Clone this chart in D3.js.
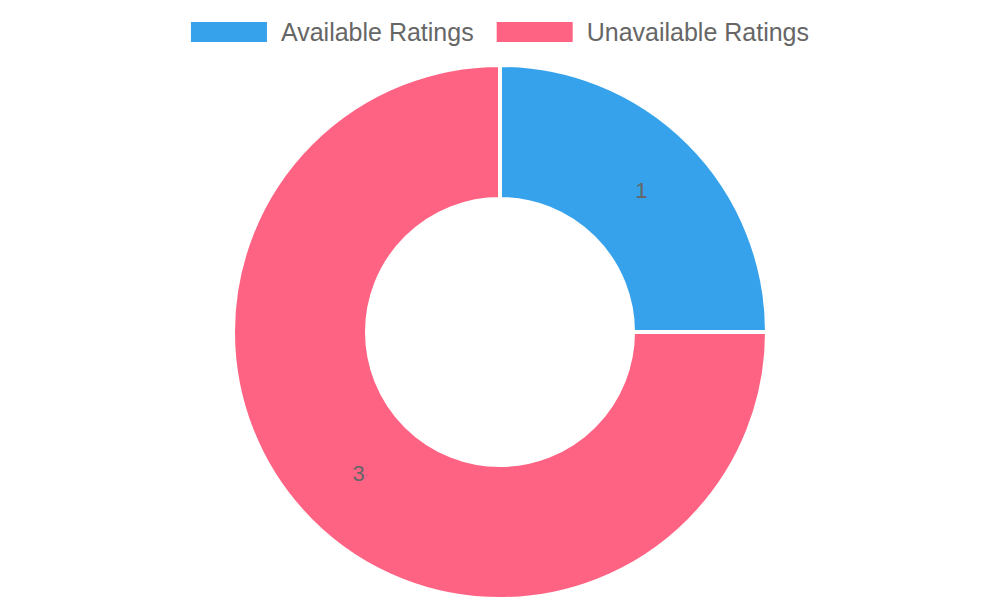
<!DOCTYPE html>
<html><head><meta charset="utf-8">
<script src="https://cdn.jsdelivr.net/npm/d3@7"></script>
<style>body{margin:0;background:#fff}svg{display:block}text{font-family:'Liberation Sans',Arial,sans-serif}</style>
</head><body>
<svg id="c" width="1000" height="600"></svg>
<script>
const categories = ["Available Ratings", "Unavailable Ratings"];
const values = [1, 3];
const colors = ["#36A2EB", "#FF6384"];

const svg = d3.select("#c");
const cx = 500, cy = 332, R = 267, r = 133;
const pie = d3.pie().sort(null).value(d => d)(values);
const arc = d3.arc().innerRadius(r).outerRadius(R);
const g = svg.append("g").attr("transform", `translate(${cx},${cy})`);
g.selectAll("path").data(pie).join("path")
  .attr("d", arc).attr("fill", (d,i) => colors[i])
  .attr("stroke", "#fff").attr("stroke-width", 4).attr("stroke-linejoin","round");
const labelArc = d3.arc().innerRadius((R+r)/2).outerRadius((R+r)/2);
g.selectAll("text").data(pie).join("text")
  .attr("transform", d => `translate(${labelArc.centroid(d)})`)
  .attr("text-anchor","middle").attr("dominant-baseline","central")
  .attr("font-size",22)
  .attr("fill","#666").text(d => d.data);

// legend
const leg = svg.append("g");
const fs = 25;
const boxW = 76, boxH = 20, gapT = 14, itemGap = 23;
const tmp = leg.append("text").attr("font-size",fs);
const widths = categories.map(c => { tmp.text(c); return tmp.node().getComputedTextLength(); });
tmp.remove();
const total = widths.reduce((a,w)=>a+boxW+gapT+w,0) + itemGap*(categories.length-1);
let x = 500 - total/2;
categories.forEach((c,i) => {
  leg.append("rect").attr("x", x).attr("y", 22).attr("width", boxW).attr("height", boxH).attr("fill", colors[i]);
  leg.append("text").attr("x", x+boxW+gapT).attr("y", 32).attr("dominant-baseline","central")
    .attr("font-size",fs).attr("fill","#666").text(c);
  x += boxW + gapT + widths[i] + itemGap;
});
</script>
</body></html>
